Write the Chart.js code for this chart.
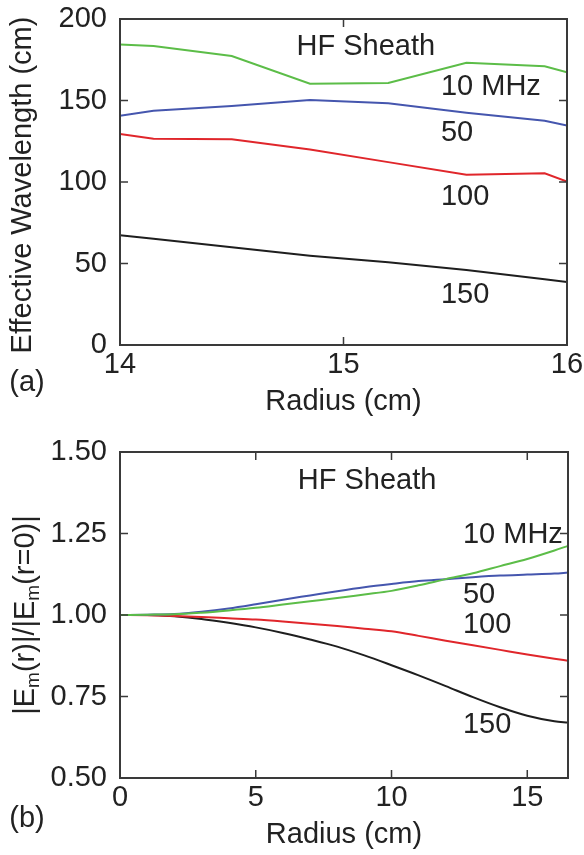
<!DOCTYPE html>
<html>
<head>
<meta charset="utf-8">
<script src="https://cdn.jsdelivr.net/npm/chart.js@4/dist/chart.umd.min.js"></script>
<style>
  html, body { margin: 0; padding: 0; background: #fff; }
  #wrap { position: relative; width: 584px; height: 855px; }
  #wrap canvas { position: absolute; left: 0; }
  #chartA { top: 0; }
  #chartB { top: 427px; }
</style>
</head>
<body>
<div id="wrap">
  <canvas id="chartA" width="584" height="427"></canvas>
  <canvas id="chartB" width="584" height="428"></canvas>
</div>
<script>
// Panel (a): effective wavelength vs radius
const radiusA = [14, 14.15, 14.5, 14.85, 15.2, 15.55, 15.9, 16];
const wl10 = [184.4, 183.4, 177.3, 160.3, 160.7, 173.2, 171.0, 167.3];
const wl50 = [140.7, 143.7, 146.6, 150.3, 148.3, 142.5, 137.6, 134.6];
const wl100 = [129.4, 126.6, 126.2, 120.0, 112.2, 104.4, 105.3, 100.2];
const wl150 = [67.3, 65.2, 59.9, 54.8, 50.7, 46.0, 40.3, 38.7];
const ticksA_x = [14, 15, 16];
const ticksA_y = [0, 50, 100, 150, 200];

// Panel (b): normalised field vs radius
const radiusB = [0, 1, 2, 3, 4, 5, 6, 7, 8, 9, 10, 11, 12, 13, 14, 15, 16, 16.5];
const em10 = [1.000, 1.001, 1.002, 1.007, 1.014, 1.022, 1.032, 1.042, 1.052, 1.063, 1.074, 1.091, 1.110, 1.128, 1.150, 1.172, 1.198, 1.212];
const em50 = [1.000, 1.001, 1.003, 1.010, 1.020, 1.033, 1.047, 1.060, 1.073, 1.085, 1.095, 1.104, 1.110, 1.116, 1.121, 1.124, 1.127, 1.130];
const em100 = [1.000, 0.999, 0.997, 0.994, 0.990, 0.986, 0.980, 0.973, 0.966, 0.958, 0.950, 0.936, 0.921, 0.907, 0.893, 0.879, 0.866, 0.860];
const em150 = [1.000, 1.000, 0.996, 0.988, 0.976, 0.962, 0.945, 0.925, 0.903, 0.876, 0.846, 0.815, 0.782, 0.748, 0.717, 0.691, 0.674, 0.670];
const ticksB_x = [0, 5, 10, 15];
const ticksB_y = [0.5, 0.75, 1.0, 1.25, 1.5];

// Frequency labels
const freqLabels = ['10 MHz', '50', '100', '150'];
const colors = ['#5cbd48', '#4556ae', '#e0262b', '#1e1e1e'];

const FONT = '"Liberation Sans", Arial, Helvetica, sans-serif';
const INK = '#222';

function toPoints(xs, ys) {
  return xs.map((x, i) => ({ x, y: ys[i] }));
}

function makeDatasets(xs, series, smooth) {
  return series.map((ys, i) => ({
    label: freqLabels[i],
    data: toPoints(xs, ys),
    borderColor: colors[i],
    borderWidth: 2,
    pointRadius: 0,
    fill: false,
    tension: smooth ? 0.4 : 0,
    cubicInterpolationMode: smooth ? 'monotone' : 'default'
  }));
}

// Frame, inward tick marks and text labels
const framePlugin = {
  id: 'frame',
  afterDraw(chart, args, opts) {
    const ctx = chart.ctx;
    const area = chart.chartArea;
    const xs = chart.scales.x;
    const ys = chart.scales.y;
    ctx.save();
    ctx.strokeStyle = '#3a3a3a';
    ctx.lineWidth = 2;
    ctx.strokeRect(area.left, area.top, area.right - area.left, area.bottom - area.top);

    ctx.lineWidth = 1.5;
    ctx.beginPath();
    opts.xTicks.forEach(v => {
      const px = xs.getPixelForValue(v);
      ctx.moveTo(px, area.bottom); ctx.lineTo(px, area.bottom - 8);
      ctx.moveTo(px, area.top); ctx.lineTo(px, area.top + 8);
    });
    opts.yTicks.forEach(v => {
      const py = ys.getPixelForValue(v);
      ctx.moveTo(area.left, py); ctx.lineTo(area.left + 8, py);
      ctx.moveTo(area.right, py); ctx.lineTo(area.right - 8, py);
    });
    ctx.stroke();

    ctx.fillStyle = INK;
    ctx.font = '29px ' + FONT;
    ctx.textBaseline = 'middle';

    // in-plot labels placed in data coordinates
    opts.labels.forEach(l => {
      ctx.textAlign = l.align || 'left';
      ctx.fillText(l.text, xs.getPixelForValue(l.x), ys.getPixelForValue(l.y));
    });

    // panel tag and x title
    ctx.textAlign = 'center';
    ctx.fillText(opts.tag, 27, opts.tagY);
    ctx.fillText('Radius (cm)', (area.left + area.right) / 2, opts.xTitleY);

    // y title
    ctx.translate(opts.yTitleX, (area.top + area.bottom) / 2 + opts.yTitleShift);
    ctx.rotate(-Math.PI / 2);
    const parts = opts.yTitle;
    const sub = '19px ' + FONT;
    const main = '29px ' + FONT;
    let total = 0;
    parts.forEach(p => { ctx.font = p.sub ? sub : main; total += ctx.measureText(p.t).width; });
    let x = -total / 2;
    ctx.textAlign = 'left';
    parts.forEach(p => {
      ctx.font = p.sub ? sub : main;
      ctx.fillText(p.t, x, p.sub ? 8 : 0);
      x += ctx.measureText(p.t).width;
    });
    ctx.restore();
  }
};

function scaleOpts(min, max, step, fmt, axis, size) {
  return {
    type: 'linear',
    min, max,
    grid: { display: false, drawTicks: false },
    border: { display: false },
    ticks: {
      stepSize: step,
      includeBounds: false,
      color: INK,
      font: { family: FONT, size: 29 },
      padding: axis === 'y' ? 13 : 3,
      maxRotation: 0,
      autoSkip: false,
      callback: fmt
    },
    afterFit(s) {
      // fixed box sizes so the plot frame lands where the figure has it
      if (axis === 'y') s.width = size; else s.height = size;
      s.paddingTop = 0; s.paddingBottom = 0;
      s.paddingLeft = 0; s.paddingRight = 0;
    }
  };
}

new Chart(document.getElementById('chartA'), {
  type: 'line',
  data: { datasets: makeDatasets(radiusA, [wl10, wl50, wl100, wl150], false) },
  options: {
    responsive: false,
    animation: false,
    devicePixelRatio: 1,
    layout: { padding: { left: 0, right: 17, top: 19, bottom: 0 } },
    scales: {
      x: scaleOpts(14, 16, 1, v => String(v), 'x', 82),
      y: scaleOpts(0, 200, 50, v => String(v), 'y', 120)
    },
    plugins: {
      legend: { display: false },
      tooltip: { enabled: false },
      frame: {
        xTicks: ticksA_x,
        yTicks: ticksA_y,
        labels: [
          { text: 'HF Sheath', x: 15.1, y: 183, align: 'center' },
          { text: freqLabels[0], x: 15.436, y: 158 },
          { text: freqLabels[1], x: 15.436, y: 129.8 },
          { text: freqLabels[2], x: 15.436, y: 90.8 },
          { text: freqLabels[3], x: 15.436, y: 30.7 }
        ],
        tag: '(a)',
        tagY: 383,
        xTitleY: 402,
        yTitleX: 23,
        yTitleShift: 3,
        yTitle: [{ t: 'Effective Wavelength (cm)' }]
      }
    }
  },
  plugins: [framePlugin]
});

new Chart(document.getElementById('chartB'), {
  type: 'line',
  data: { datasets: makeDatasets(radiusB, [em10, em50, em100, em150], true) },
  options: {
    responsive: false,
    animation: false,
    devicePixelRatio: 1,
    layout: { padding: { left: 0, right: 16, top: 25, bottom: 0 } },
    scales: {
      x: scaleOpts(0, 16.5, 5, v => String(v), 'x', 77),
      y: scaleOpts(0.5, 1.5, 0.25, v => v.toFixed(2), 'y', 120)
    },
    plugins: {
      legend: { display: false },
      tooltip: { enabled: false },
      frame: {
        xTicks: ticksB_x,
        yTicks: ticksB_y,
        labels: [
          { text: 'HF Sheath', x: 9.1, y: 1.411, align: 'center' },
          { text: freqLabels[0], x: 12.63, y: 1.245 },
          { text: freqLabels[1], x: 12.63, y: 1.061 },
          { text: freqLabels[2], x: 12.63, y: 0.969 },
          { text: freqLabels[3], x: 12.63, y: 0.663 }
        ],
        tag: '(b)',
        tagY: 392,
        xTitleY: 408,
        yTitleX: 26,
        yTitleShift: 0,
        yTitle: [
          { t: '|E' }, { t: 'm', sub: true }, { t: '(r)|/|E' },
          { t: 'm', sub: true }, { t: '(r=0)|' }
        ]
      }
    }
  },
  plugins: [framePlugin]
});
</script>
</body>
</html>
